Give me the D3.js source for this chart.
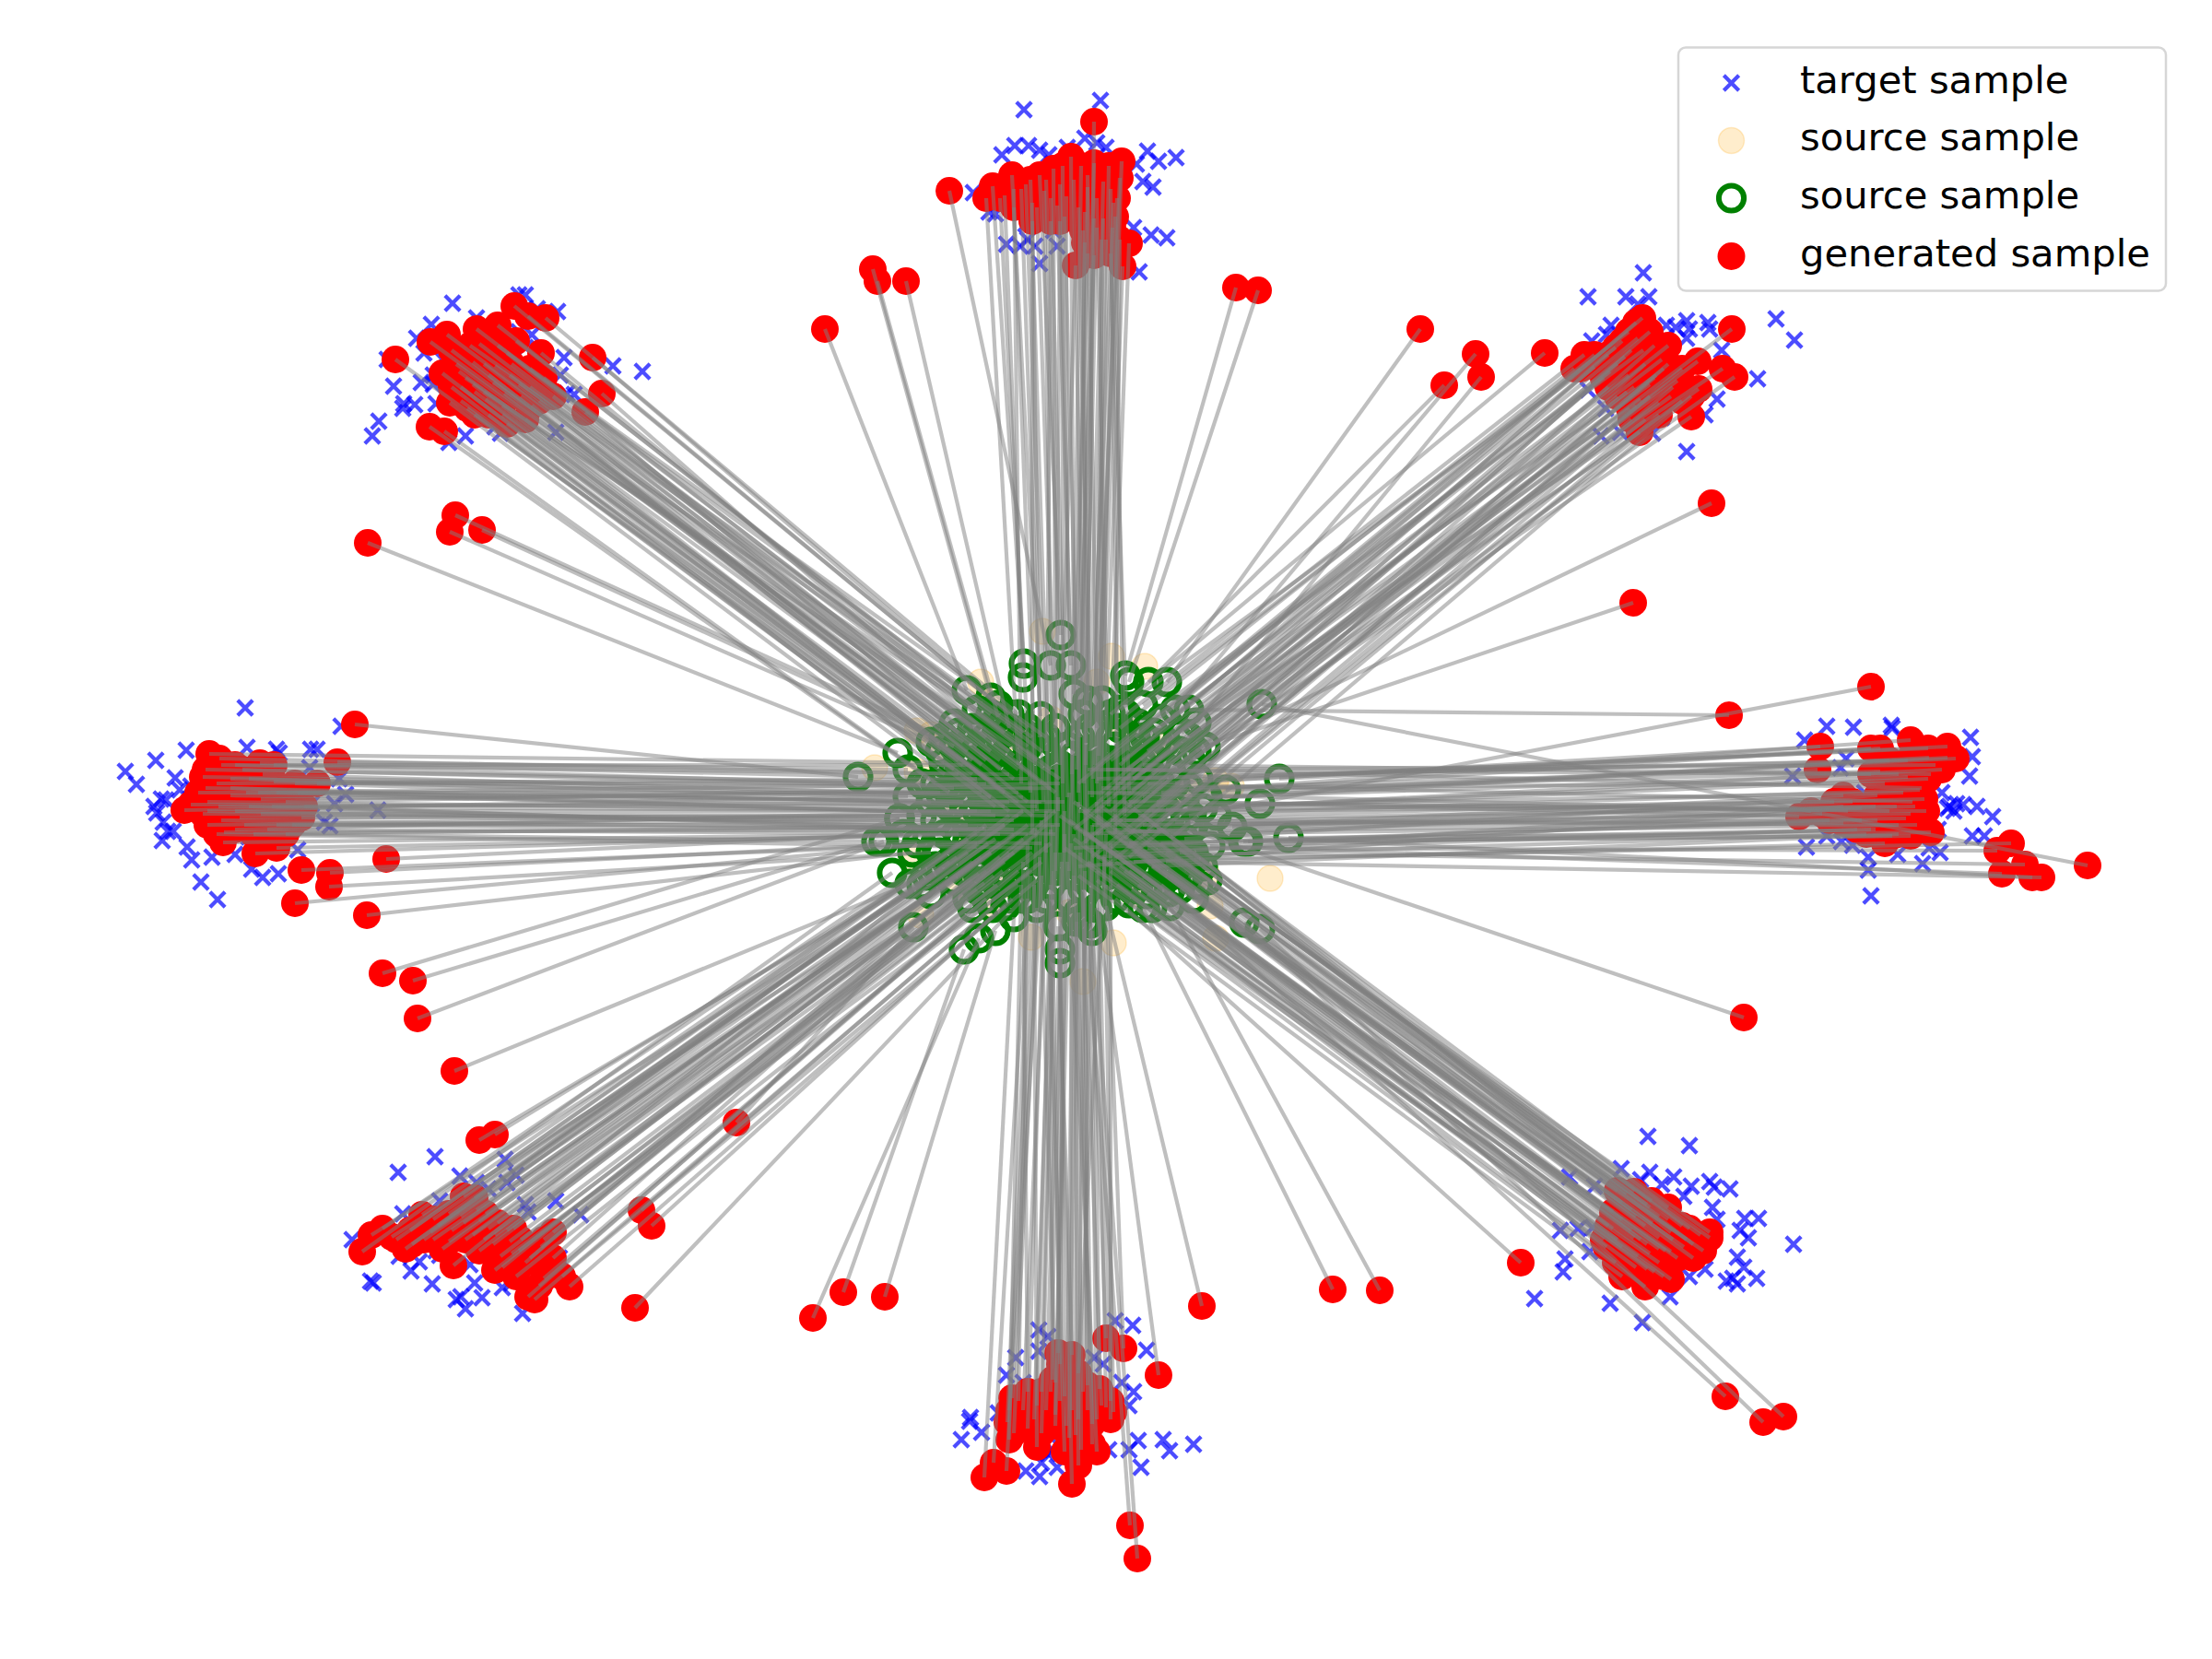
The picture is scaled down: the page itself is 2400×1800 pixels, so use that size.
<!DOCTYPE html>
<html><head><meta charset="utf-8">
<style>html,body{margin:0;padding:0;background:#fff}svg{display:block}</style>
<script src="https://cdnjs.cloudflare.com/ajax/libs/d3/7.8.5/d3.min.js"></script>
</head><body><svg id="c" width="2400" height="1800"></svg>
<script>
// each link: generated x, generated y, source x, source y
const linksN=[[10.30,2.07,11.40,7.22],[11.87,1.32,11.80,7.60],[10.77,2.02,11.11,7.20],[10.90,2.12,11.10,7.35],[10.98,1.90,11.29,7.77],[11.20,2.20,11.28,8.00],[11.28,1.90,11.51,6.89],[11.47,2.23,11.62,7.22],[11.43,1.83,11.45,7.90],[11.62,1.70,11.65,7.53],[11.87,1.77,11.72,8.00],[12.17,1.75,11.96,7.60],[12.15,1.93,11.90,7.90],[12.08,2.20,11.83,8.15],[11.87,2.37,11.78,8.30],[12.25,2.64,12.05,8.00],[12.18,2.89,11.98,8.25],[11.67,2.88,11.50,8.30],[11.87,2.77,11.68,8.35],[12.00,2.60,11.86,8.45],[11.13,2.00,11.35,8.15],[11.33,2.07,11.42,8.35],[11.57,2.13,11.58,8.10],[11.80,2.03,11.75,7.75],[11.97,1.97,11.82,7.90],[12.03,1.80,11.92,8.20],[11.73,1.80,11.63,8.40],[11.53,1.80,11.53,8.50],[11.77,2.30,11.70,8.60],[11.90,2.47,11.76,8.50],[12.07,2.47,11.95,8.45],[11.77,2.63,11.66,8.20],[11.97,2.37,11.88,8.30],[13.41,3.12,12.21,7.33],[13.65,3.15,12.25,7.40],[8.95,3.57,10.49,7.49],[9.47,2.92,10.75,7.57],[9.52,3.05,10.83,7.78],[9.83,3.05,10.95,7.90]];
const linksNE=[[15.41,3.57,12.66,7.40],[16.01,3.84,12.75,7.70],[16.07,4.09,12.98,7.84],[15.67,4.18,12.46,7.40],[18.57,5.46,12.98,8.15],[17.72,6.54,13.08,8.10],[17.82,3.45,12.60,7.80],[18.79,3.57,12.90,8.00],[17.08,4.00,12.15,7.90],[17.19,3.85,12.22,7.75],[16.76,3.83,12.05,7.75],[17.30,3.98,12.32,8.00],[17.67,3.60,12.40,7.65],[17.77,3.67,12.52,7.95],[18.10,3.75,12.65,8.05],[18.42,3.92,12.80,8.15],[18.69,4.00,12.82,7.95],[18.82,4.09,12.92,8.25],[18.43,4.22,12.70,8.35],[18.35,4.52,12.58,8.48],[17.79,4.69,12.28,8.58],[17.68,4.43,12.22,8.35],[18.00,4.37,12.40,8.38],[18.20,4.13,12.55,8.25],[18.03,3.90,12.45,8.15],[17.47,4.03,12.10,8.10],[17.63,3.87,12.25,8.15],[17.83,3.80,12.35,7.85],[17.53,3.77,12.15,7.70],[17.73,4.20,12.18,8.25],[17.90,4.17,12.38,8.25],[17.80,4.33,12.30,8.45],[18.13,4.30,12.50,8.40],[17.97,4.07,12.42,8.00],[17.67,4.07,12.05,8.25]];
const linksE=[[18.76,7.76,12.90,7.70],[20.30,7.45,12.90,8.85],[19.75,8.10,12.75,8.50],[19.72,8.35,12.90,8.55],[19.52,8.86,13.67,8.72],[20.40,8.12,12.45,8.50],[20.30,8.12,13.30,8.57],[20.73,8.03,12.60,8.60],[20.92,8.12,13.00,8.45],[21.13,8.10,13.88,8.45],[21.22,8.23,12.40,8.65],[21.13,8.22,12.85,8.68],[21.07,8.35,13.05,8.77],[20.93,8.22,12.25,8.70],[20.70,8.43,12.65,8.78],[20.92,8.45,12.50,8.80],[20.83,8.57,12.35,8.85],[20.88,8.67,13.20,8.85],[20.78,8.75,12.75,8.92],[20.73,8.83,12.95,8.95],[20.68,8.88,13.37,8.97],[20.58,8.75,12.20,8.90],[20.95,9.03,13.98,9.09],[20.73,9.07,13.54,9.13],[20.53,9.07,13.49,9.13],[20.30,9.00,13.13,9.18],[20.00,8.63,12.55,9.00],[19.77,8.83,12.40,8.95],[20.00,8.93,12.28,9.02],[20.20,8.77,12.70,9.05],[20.40,8.37,12.15,8.60],[20.60,8.40,13.10,8.65],[20.37,8.63,12.85,9.10],[20.37,8.90,12.60,9.15],[21.82,9.15,12.96,9.32],[21.67,9.23,12.45,9.20],[21.97,9.38,12.80,9.25],[21.72,9.48,12.25,9.15],[22.05,9.52,12.10,9.00],[22.15,9.52,12.65,9.35],[22.65,9.39,13.69,7.64]];
const linksSE=[[18.92,11.04,12.90,9.00],[16.50,13.70,12.10,9.75],[14.97,14.00,12.69,9.83],[14.46,13.99,12.40,9.85],[13.04,14.17,12.00,9.83],[18.72,15.15,12.60,9.60],[19.13,15.43,13.50,10.01],[19.35,15.37,13.67,10.08],[17.55,12.92,12.50,9.40],[17.92,13.03,12.90,9.50],[18.10,13.23,13.00,9.60],[18.33,13.33,12.85,9.35],[18.55,13.37,13.10,9.55],[18.55,13.43,12.75,9.30],[18.48,13.57,12.95,9.75],[18.37,13.65,12.70,9.50],[18.13,13.58,12.55,9.65],[18.13,13.88,12.45,9.70],[17.85,13.96,12.25,9.80],[17.87,13.77,12.35,9.60],[17.53,13.70,12.12,9.60],[17.50,13.33,12.25,9.45],[17.73,13.43,12.40,9.50],[18.00,13.43,12.62,9.45],[18.27,13.53,12.80,9.65],[17.70,13.13,12.65,9.25],[17.93,13.27,12.80,9.20],[17.60,13.53,12.15,9.40],[17.77,13.63,12.28,9.65],[18.00,13.70,12.50,9.85],[17.87,13.50,12.45,9.35],[18.13,13.37,12.95,9.25],[17.60,13.23,12.32,9.25],[18.07,13.57,12.68,9.68],[18.37,13.50,13.05,9.40],[17.43,13.53,12.05,9.45],[17.87,13.07,12.72,9.15],[17.73,12.93,12.58,9.15]];
const linksS=[[12.00,14.52,11.83,10.02],[12.19,14.63,12.00,9.60],[12.57,14.92,11.90,9.85],[10.68,16.03,11.00,9.95],[10.78,15.87,11.15,9.75],[10.92,15.96,11.25,9.85],[11.63,16.10,11.50,10.45],[11.48,14.68,11.50,10.30],[11.63,14.70,11.48,10.05],[11.42,14.97,11.40,9.60],[10.98,15.17,11.30,9.50],[10.93,15.43,11.18,9.50],[10.95,15.62,11.08,9.60],[11.10,15.30,11.35,9.75],[11.22,15.40,11.43,9.45],[11.35,15.30,11.52,9.35],[11.45,15.47,11.60,9.75],[11.57,15.47,11.65,9.50],[11.73,15.73,11.70,9.90],[11.85,15.67,11.75,9.65],[11.90,15.40,11.82,9.35],[12.00,15.27,11.90,9.45],[12.08,15.32,11.98,9.30],[11.93,15.07,11.85,9.20],[11.80,15.03,11.72,9.25],[11.63,15.30,11.62,9.15],[11.50,15.20,11.55,9.05],[11.67,15.57,11.68,10.00],[11.80,15.30,11.77,9.45],[11.30,15.10,11.45,9.25],[12.26,16.55,11.78,10.00],[12.34,16.91,11.85,10.10],[8.82,14.30,10.62,10.18],[9.15,14.02,10.46,10.30],[9.60,14.07,10.80,10.10],[7.99,12.18,9.91,10.06]];
const linksSW=[[3.93,13.58,9.68,9.47],[4.03,13.40,10.00,9.60],[4.15,13.33,10.20,9.25],[4.25,13.42,10.10,9.70],[4.47,13.50,10.30,9.35],[4.58,13.18,10.40,9.15],[4.67,13.37,10.35,9.55],[5.03,12.98,10.60,9.20],[4.92,13.73,10.22,9.43],[4.87,13.47,10.45,9.45],[5.17,13.13,10.65,9.30],[5.30,13.33,10.70,9.45],[5.40,13.27,10.75,9.25],[5.37,13.78,10.50,9.75],[5.53,13.47,10.78,9.50],[5.70,13.70,10.66,9.38],[6.00,13.37,10.95,9.25],[5.87,13.53,10.88,9.45],[5.90,13.87,10.70,9.75],[5.73,14.07,10.55,9.85],[5.80,14.10,10.77,9.85],[6.18,13.96,10.91,9.83],[5.20,13.57,10.55,9.55],[5.43,13.63,10.60,9.65],[5.03,13.27,10.55,9.35],[4.70,13.23,10.38,9.30],[4.87,13.17,10.50,9.25],[5.13,13.40,10.62,9.48],[5.27,13.17,10.72,9.15],[5.57,13.33,10.85,9.30],[5.37,13.40,10.68,9.58],[5.63,13.57,10.82,9.60],[6.89,14.19,11.10,9.75],[6.96,13.13,11.05,9.60],[7.07,13.30,10.98,9.75],[5.20,12.37,10.05,9.50],[5.37,12.31,10.15,9.40],[4.93,11.62,9.87,9.59],[4.53,11.05,9.59,9.13],[4.48,10.64,9.51,9.13],[4.15,10.56,9.76,8.88]];
const linksW=[[3.85,7.86,9.31,8.43],[3.66,8.27,9.85,8.35],[3.44,8.50,10.00,8.50],[2.27,8.18,10.24,8.28],[2.38,8.23,10.40,8.40],[2.82,8.28,10.60,8.45],[2.97,8.30,10.50,8.30],[2.23,8.35,10.70,8.50],[2.20,8.43,10.35,8.55],[2.63,8.35,10.85,8.55],[2.50,8.45,10.20,8.60],[2.97,8.48,10.75,8.65],[3.23,8.60,10.95,8.70],[2.67,8.60,10.45,8.70],[2.23,8.55,10.10,8.70],[2.00,8.79,9.85,8.64],[2.07,8.73,10.30,8.75],[2.37,8.75,10.60,8.80],[2.20,8.83,9.76,8.88],[2.60,8.87,10.80,8.85],[3.27,8.87,11.00,8.90],[3.17,8.95,10.50,8.95],[3.00,8.95,10.15,8.90],[2.25,8.95,10.00,8.85],[2.43,9.03,10.70,9.00],[2.42,9.14,10.40,9.05],[3.00,9.20,10.85,9.05],[2.77,9.26,10.25,9.05],[3.27,9.44,10.60,9.15],[3.58,9.47,9.95,9.15],[3.57,9.62,10.10,9.25],[4.19,9.32,9.80,9.05],[3.20,9.80,10.15,9.15],[3.98,9.93,9.90,9.25],[2.83,8.67,10.65,8.60],[2.50,8.63,10.90,8.75],[2.83,8.83,10.45,8.85],[3.99,5.89,9.74,8.17],[4.94,5.59,10.24,8.00],[4.88,5.77,10.10,8.05],[5.23,5.75,10.35,8.10]];
const linksNW=[[4.29,3.90,10.20,8.15],[4.67,3.71,10.35,7.85],[4.85,3.63,10.55,7.90],[5.17,3.57,10.60,7.70],[5.40,3.53,10.75,7.75],[5.58,3.32,10.83,7.65],[5.73,3.43,10.95,7.75],[5.92,3.45,11.05,7.75],[5.50,3.83,10.70,8.00],[5.87,3.83,10.90,7.95],[6.43,3.88,11.15,7.90],[6.53,4.27,11.00,8.20],[6.35,4.47,10.85,8.35],[5.77,4.40,10.65,8.30],[5.63,4.17,10.75,8.15],[5.45,4.50,10.55,8.40],[5.07,4.43,10.35,8.35],[4.88,4.37,10.25,8.40],[4.66,4.63,10.15,8.50],[4.82,4.68,10.30,8.60],[4.98,4.03,10.45,8.05],[5.13,3.93,10.50,8.15],[5.30,4.07,10.60,8.10],[5.47,4.27,10.70,8.25],[5.00,4.20,10.40,8.25],[5.27,4.33,10.55,8.25],[4.90,3.80,10.40,7.95],[5.20,3.73,10.65,7.90],[5.53,4.07,10.80,8.05],[5.37,3.97,10.85,7.85],[5.13,4.17,10.45,8.30]];

// denser inner links of each arm, their sources lie inside the central blob
const coreN=[[10.85,2.15,11.18,8.60],[11.00,2.25,11.25,8.80],[11.08,2.05,11.32,8.70],[11.18,1.95,11.40,9.05],[11.25,2.25,11.48,8.80],[11.35,1.95,11.55,9.25],[11.40,2.15,11.58,8.65],[11.50,2.00,11.65,8.95],[11.55,2.35,11.72,8.75],[11.65,1.95,11.78,9.15],[11.70,2.25,11.85,8.65],[11.80,1.90,11.92,8.95],[11.90,2.15,12.03,8.75],[12.05,2.05,12.13,8.60],[12.10,2.35,12.20,8.85],[11.95,2.60,11.95,9.15],[11.75,2.50,11.80,9.40],[12.15,2.60,12.10,9.05],[12.05,2.75,12.25,8.60],[11.00,2.05,11.08,8.50],[11.50,2.40,11.45,9.45],[11.40,2.40,11.35,9.25],[11.20,2.40,11.20,9.05],[11.80,2.75,11.60,9.45],[10.70,2.15,11.05,8.30],[12.12,2.15,11.90,8.50]];
const coreNE=[[17.15,4.00,11.70,8.50],[17.30,3.85,11.85,8.35],[17.45,3.85,11.95,8.60],[17.55,3.95,12.05,8.80],[17.40,4.10,11.80,8.80],[17.60,3.70,12.15,8.50],[17.70,3.80,12.25,8.70],[17.85,3.95,12.35,8.90],[17.95,3.75,12.50,8.60],[18.05,4.00,12.40,8.70],[17.65,4.25,11.90,9.05],[17.75,4.40,12.05,9.20],[17.90,4.30,12.20,9.10],[18.00,4.50,12.25,9.30],[18.15,4.20,12.45,9.00],[18.25,4.35,12.60,8.90],[17.85,4.55,12.00,9.40],[17.70,4.55,11.85,9.30],[17.55,4.30,11.75,9.15],[17.45,4.20,11.65,9.00],[18.10,3.95,12.60,8.65],[17.75,3.50,12.15,8.30],[17.90,3.60,12.30,8.45],[18.25,4.00,12.55,8.75],[18.35,4.30,12.70,9.10],[17.95,4.10,12.10,8.95]];
const coreE=[[19.90,8.70,11.70,8.80],[20.05,8.80,11.80,8.60],[20.20,8.90,11.85,8.95],[20.35,9.00,11.90,9.15],[20.50,8.80,11.95,8.70],[20.60,8.95,12.05,8.90],[20.75,8.70,12.10,8.50],[20.85,8.55,12.25,8.35],[20.95,8.40,12.40,8.30],[21.00,8.30,12.00,8.35],[20.70,8.25,12.15,8.45],[20.50,8.25,11.90,8.45],[20.30,8.40,11.80,8.35],[20.45,8.50,11.95,8.55],[20.10,8.70,11.75,9.05],[20.25,9.05,12.15,9.30],[20.45,9.15,12.30,9.35],[20.60,9.05,12.50,9.40],[20.80,8.95,12.40,9.05],[20.90,8.80,12.55,8.70],[19.85,8.90,11.65,9.20],[19.65,8.80,11.70,9.40],[20.15,9.00,12.00,9.25],[20.00,8.75,11.90,9.30],[20.65,8.60,12.30,8.75],[20.35,8.75,12.20,8.80]];
const coreSE=[[17.45,13.30,11.60,8.90],[17.60,13.05,11.75,8.80],[17.75,13.20,11.90,8.85],[17.55,13.45,11.65,9.10],[17.70,13.35,11.80,9.05],[17.85,13.30,12.00,9.00],[18.00,13.20,12.10,8.90],[18.15,13.45,12.15,9.10],[17.90,13.60,11.95,9.30],[17.75,13.75,11.80,9.35],[17.60,13.85,11.70,9.50],[17.95,13.80,11.90,9.55],[18.20,13.65,12.10,9.35],[18.30,13.45,12.25,9.15],[18.45,13.40,12.35,9.00],[18.05,13.85,12.05,9.60],[17.50,13.15,11.50,8.85],[17.65,12.95,11.65,8.70],[17.90,13.10,11.95,8.75],[18.10,13.10,12.20,8.70],[17.40,13.45,11.55,9.20],[17.80,13.45,12.05,9.20],[18.00,13.55,12.20,9.45],[18.25,13.30,12.40,8.85]];
const coreS=[[10.95,15.30,11.25,9.00],[11.00,15.55,11.30,8.90],[11.05,15.20,11.15,9.15],[11.15,15.50,11.35,8.80],[11.25,15.25,11.42,8.95],[11.30,15.55,11.48,8.65],[11.40,15.10,11.55,8.80],[11.45,15.35,11.60,8.60],[11.55,15.15,11.50,9.25],[11.60,15.60,11.70,8.70],[11.70,15.40,11.78,8.80],[11.75,15.10,11.85,8.95],[11.85,15.45,11.65,9.05],[11.95,15.25,11.72,9.00],[12.05,15.20,11.90,8.70],[11.90,15.75,11.58,9.35],[11.70,15.90,11.65,9.25],[11.55,15.75,11.35,9.15],[11.45,15.00,11.28,9.30],[11.70,14.90,12.00,9.05],[11.15,15.10,11.10,9.35],[11.25,15.70,11.22,9.60],[12.05,15.40,12.05,9.15],[11.50,14.80,11.40,9.00]];
const coreSW=[[4.30,13.45,10.60,9.05],[4.45,13.35,10.70,8.95],[4.60,13.45,10.80,9.10],[4.75,13.30,10.90,8.95],[4.90,13.35,11.00,9.05],[5.05,13.45,10.85,9.15],[5.20,13.25,11.00,9.25],[5.35,13.50,11.10,9.10],[5.50,13.35,11.15,8.95],[5.65,13.45,11.20,9.25],[5.00,13.20,10.95,8.85],[5.15,13.00,11.10,8.80],[4.80,13.55,10.75,9.25],[5.45,13.75,11.25,9.05],[5.60,13.85,11.30,9.35],[5.75,13.65,11.35,8.95],[5.90,13.45,11.40,9.15],[6.00,13.65,11.45,8.80],[6.10,13.85,11.25,9.55],[5.85,13.95,11.05,9.45],[4.70,13.45,10.60,9.35],[4.40,13.55,10.50,9.10],[5.25,13.45,10.90,9.35],[5.55,13.60,11.20,9.45]];
const coreW=[[2.15,8.60,11.05,8.60],[2.25,8.70,11.10,8.80],[2.35,8.50,11.15,8.45],[2.40,8.30,10.95,8.40],[2.55,8.30,11.20,8.55],[2.70,8.45,11.30,8.70],[2.85,8.40,11.10,8.65],[3.00,8.60,11.35,8.85],[3.10,8.70,11.40,8.55],[2.40,8.90,11.25,9.00],[2.55,8.80,11.45,8.80],[2.70,8.75,11.00,9.00],[2.90,9.00,11.15,9.05],[3.10,9.05,11.30,9.15],[2.75,9.05,11.50,8.95],[2.25,8.80,10.90,8.95],[2.55,9.00,10.75,8.80],[2.65,8.95,10.60,9.00],[2.35,9.05,11.20,9.20],[3.30,8.75,11.45,9.05],[3.20,8.50,11.25,8.75],[2.95,8.75,11.55,8.70],[2.50,8.55,11.05,8.85],[2.80,8.60,11.50,8.50]];
const coreNW=[[4.95,3.95,10.85,8.25],[5.05,4.10,10.95,8.15],[5.15,4.25,10.80,8.50],[5.25,3.95,11.05,8.35],[5.35,4.15,11.15,8.10],[5.45,4.40,10.90,8.60],[5.55,3.95,11.25,8.25],[5.65,4.30,11.00,8.45],[5.75,4.20,11.30,8.50],[5.85,4.35,11.15,8.70],[5.90,4.10,11.40,8.35],[5.30,4.50,10.95,8.80],[5.15,4.50,10.75,8.65],[5.00,4.35,10.70,8.45],[5.40,3.75,11.20,8.00],[5.60,3.70,11.30,8.15],[5.10,3.75,11.10,7.95],[6.00,4.30,11.45,8.60],[5.70,4.55,11.20,8.85],[5.50,4.60,11.05,8.70],[4.80,4.05,10.60,8.50],[4.90,4.20,10.80,8.75],[5.75,4.00,11.35,8.00],[5.25,4.25,11.50,8.45]];

const sourceFaded=[[11.31,6.85],[12.06,7.12],[12.42,7.23],[10.64,7.40],[10.75,7.57],[9.95,7.93],[10.10,7.97],[11.90,7.40],[13.78,9.53],[13.19,10.18],[12.08,10.23],[11.19,10.17],[11.75,10.65],[10.77,9.83],[10.41,9.60],[9.99,9.93],[13.09,9.48],[13.19,8.47],[13.36,8.53],[13.13,9.83],[9.89,9.30],[9.49,8.33],[9.95,8.37],[10.20,8.10],[10.35,8.80],[10.60,8.40],[11.00,8.00],[11.40,7.80],[12.20,7.90],[12.60,8.10],[12.90,8.60],[12.75,9.20],[12.30,9.70],[11.60,9.90],[10.95,9.60],[10.50,9.20],[11.30,8.60],[11.80,9.10],[12.10,8.50]];

const targetW=[[2.66,7.68],[3.70,7.88],[2.02,8.14],[1.69,8.25],[1.36,8.37],[1.48,8.51],[1.90,8.44],[2.68,8.11],[3.00,8.13],[3.03,8.17],[3.37,8.13],[3.44,8.13],[3.36,8.33],[3.68,8.45],[3.75,8.62],[3.63,8.72],[4.10,8.79],[3.58,8.96],[3.52,8.92],[3.38,8.72],[1.75,8.67],[1.70,8.82],[1.77,8.92],[1.88,9.02],[1.76,9.12],[2.03,9.19],[2.08,9.33],[2.30,9.30],[2.18,9.57],[2.36,9.76],[2.73,9.43],[2.85,9.52],[3.02,9.48],[2.55,9.27],[3.23,9.22],[2.70,9.08],[1.95,8.57],[2.07,8.53],[1.67,8.75],[1.82,9.02],[1.80,8.68]];
const targetN=[[11.11,1.19],[11.94,1.09],[10.56,2.09],[10.87,1.68],[11.01,1.58],[11.16,1.58],[11.28,1.63],[11.38,1.68],[11.77,1.50],[11.58,1.60],[11.90,1.55],[12.00,1.60],[12.45,1.64],[12.57,1.75],[12.76,1.71],[12.40,1.97],[12.51,2.03],[12.33,1.78],[12.30,2.47],[12.49,2.55],[12.66,2.58],[12.36,2.95],[10.73,2.30],[10.80,2.32],[10.92,2.65],[11.13,2.43],[11.07,2.67],[11.23,2.67],[11.28,2.86],[11.43,2.50],[11.47,2.67],[11.57,2.45],[11.15,2.60],[12.10,2.77],[11.70,1.93],[11.63,1.93]];
const targetNW=[[4.91,3.29],[4.68,3.52],[4.52,3.67],[4.20,3.90],[4.27,4.19],[4.11,4.57],[4.04,4.73],[4.37,4.43],[4.50,4.39],[4.38,4.38],[4.57,4.15],[4.80,3.90],[4.70,4.07],[4.70,4.17],[4.73,4.38],[5.05,4.73],[4.87,4.80],[5.37,4.63],[5.43,4.70],[6.03,4.69],[6.15,4.27],[6.23,4.28],[6.08,4.07],[6.12,3.88],[6.65,3.97],[6.97,4.03],[5.88,4.18],[5.85,4.03],[5.63,3.20],[5.70,3.20],[5.83,3.35],[6.05,3.38],[5.17,3.45],[5.63,3.60],[5.77,3.63],[5.70,3.77],[5.80,4.23],[5.67,4.55],[4.60,3.83]];
const targetNE=[[17.83,2.96],[17.23,3.22],[17.64,3.22],[17.89,3.22],[17.77,3.30],[17.48,3.53],[17.43,3.63],[18.08,3.53],[18.18,3.55],[18.30,3.48],[18.30,3.67],[18.53,3.50],[18.55,3.57],[19.27,3.46],[19.47,3.69],[19.07,4.11],[18.68,3.80],[18.63,4.33],[18.50,4.50],[18.03,4.53],[18.30,4.90],[17.93,4.70],[17.58,4.69],[17.37,4.73],[17.42,4.43],[17.23,4.23],[17.27,3.70],[18.30,4.07],[18.27,4.00],[18.33,3.57]];
const targetE=[[19.58,8.03],[19.82,7.88],[20.11,7.89],[20.52,7.87],[21.38,8.00],[21.40,8.21],[21.37,8.42],[21.45,8.75],[21.62,8.86],[21.23,8.72],[21.15,8.75],[21.07,8.60],[19.45,8.42],[20.03,8.23],[19.97,8.33],[19.60,9.19],[19.82,9.07],[19.98,9.13],[20.10,9.17],[20.27,9.30],[20.27,9.44],[20.30,9.72],[20.59,9.27],[20.86,9.37],[21.05,9.25],[20.93,9.20],[21.40,9.07],[21.53,9.07],[21.03,9.00],[20.23,8.60],[21.20,8.80],[21.13,8.77],[21.30,8.73],[20.53,7.90]];
const targetSE=[[17.88,12.33],[18.33,12.43],[17.59,12.68],[17.90,12.72],[18.16,12.77],[18.35,12.87],[18.55,12.82],[18.60,12.88],[18.77,12.90],[17.03,12.77],[17.30,12.87],[17.80,12.80],[18.03,12.85],[16.93,13.35],[17.12,13.33],[17.28,13.32],[17.25,13.58],[16.98,13.66],[16.96,13.80],[16.65,14.09],[17.47,14.14],[17.82,14.35],[18.12,14.07],[18.33,13.85],[18.50,13.77],[18.73,13.90],[18.85,13.93],[19.06,13.87],[18.92,13.75],[18.85,13.64],[18.97,13.43],[18.88,13.35],[18.93,13.22],[19.08,13.22],[19.46,13.50],[18.58,13.10],[18.63,13.23],[18.27,12.98],[18.80,13.87]];
const targetS=[[11.27,14.43],[11.37,14.50],[11.02,14.73],[11.27,14.66],[10.92,14.92],[11.10,15.00],[10.53,15.38],[10.52,15.42],[10.65,15.54],[10.43,15.62],[12.30,15.10],[12.25,15.25],[12.44,14.65],[12.29,14.38],[12.10,14.33],[12.03,15.73],[12.25,15.73],[12.35,15.63],[12.62,15.62],[12.69,15.74],[12.95,15.67],[12.38,15.92],[11.23,15.70],[11.42,15.73],[11.48,15.68],[11.13,15.96],[11.28,16.02],[11.47,15.92],[11.67,15.93],[11.30,15.87],[10.83,15.33],[12.17,15.00],[11.87,14.73],[11.97,14.80],[11.37,15.77]];
const targetSW=[[4.72,12.55],[4.32,12.72],[4.99,12.76],[5.17,12.83],[3.82,13.45],[4.33,13.63],[4.55,13.69],[4.46,13.79],[4.02,13.90],[4.05,13.92],[4.69,13.93],[4.77,13.62],[4.95,14.10],[5.05,14.20],[5.23,14.08],[5.15,13.92],[5.45,13.97],[5.55,13.92],[5.67,14.25],[6.07,13.65],[6.30,13.18],[6.03,13.03],[5.48,12.58],[5.60,12.75],[5.30,12.90],[5.70,13.07],[5.50,12.83],[4.37,13.17],[4.77,13.03],[5.73,13.15],[4.73,13.57],[5.00,14.07],[5.10,13.72]];

const seriesLabels=["target sample","source sample","source sample","generated sample"];

const links=[...linksN,...linksNE,...linksE,...linksSE,...linksS,...linksSW,...linksW,...linksNW,...coreN,...coreNE,...coreE,...coreSE,...coreS,...coreSW,...coreW,...coreNW];
const targets=[...targetW,...targetN,...targetNW,...targetNE,...targetE,...targetSE,...targetS,...targetSW];

const x=d3.scaleLinear().domain([0,24]).range([0,2400]);
const y=d3.scaleLinear().domain([0,18]).range([0,1800]);
const svg=d3.select("#c");
const timesPath=d3.symbol().type(d3.symbolTimes).size(175)();

const styleTarget=s=>s.attr("d",timesPath).attr("fill","none").attr("stroke","#0000ff").attr("stroke-opacity",0.7).attr("stroke-width",4.2);
const styleFaded=s=>s.attr("r",14).attr("fill","#ffa500").attr("fill-opacity",0.2).attr("stroke","#ffa500").attr("stroke-opacity",0.2).attr("stroke-width",1.5);
const styleSource=s=>s.attr("r",13.6).attr("fill","none").attr("stroke","#008000").attr("stroke-width",6);
const styleGen=s=>s.attr("r",15).attr("fill","#ff0000");

svg.append("g").selectAll("path").data(targets).join("path")
  .attr("transform",d=>`translate(${x(d[0])},${y(d[1])})`).call(styleTarget);
svg.append("g").selectAll("circle").data(sourceFaded).join("circle")
  .attr("cx",d=>x(d[0])).attr("cy",d=>y(d[1])).call(styleFaded);
svg.append("g").selectAll("circle").data(links).join("circle")
  .attr("cx",d=>x(d[2])).attr("cy",d=>y(d[3])).call(styleSource);
svg.append("g").selectAll("circle").data(links).join("circle")
  .attr("cx",d=>x(d[0])).attr("cy",d=>y(d[1])).call(styleGen);
svg.append("g").selectAll("line").data(links).join("line")
  .attr("x1",d=>x(d[2])).attr("y1",d=>y(d[3])).attr("x2",d=>x(d[0])).attr("y2",d=>y(d[1]))
  .attr("stroke","#808080").attr("stroke-opacity",0.5).attr("stroke-width",4.2);

const lg=svg.append("g");
lg.append("rect").attr("x",1821).attr("y",51.5).attr("width",529).attr("height",264).attr("rx",8)
  .attr("fill","#fff").attr("fill-opacity",0.8).attr("stroke","#cccccc").attr("stroke-opacity",0.8).attr("stroke-width",2.5);
const rowY=[90,152.5,215,278], mx=1878.5;
lg.append("path").attr("transform",`translate(${mx},${rowY[0]})`).call(styleTarget);
lg.append("circle").attr("cx",mx).attr("cy",rowY[1]).call(styleFaded);
lg.append("circle").attr("cx",mx).attr("cy",rowY[2]).call(styleSource);
lg.append("circle").attr("cx",mx).attr("cy",rowY[3]).call(styleGen);
lg.selectAll("text").data(seriesLabels).join("text")
  .attr("x",1953).attr("y",(d,i)=>rowY[i]+10.5)
  .attr("font-family","'DejaVu Sans'").attr("font-size",41.67).attr("fill","#000").text(d=>d);
</script></body></html>
